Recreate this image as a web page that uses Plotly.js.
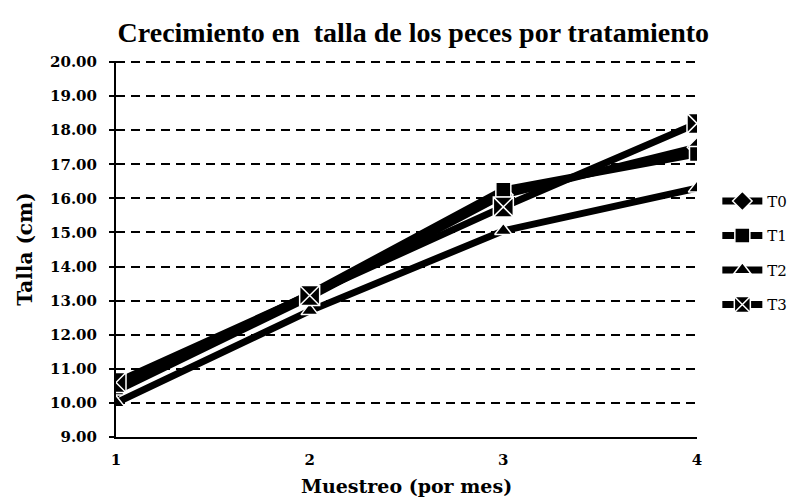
<!DOCTYPE html>
<html><head><meta charset="utf-8">
<script src="https://cdn.plot.ly/plotly-3.0.1.min.js"></script>
<style>body{margin:0;background:#fff}</style>
</head><body>
<div id="chart" style="width:798px;height:501px"></div>
<script>
const muestreo = [1, 2, 3, 4];
const T0 = [10.35, 13.1, 16.1, 17.5];
const T1 = [10.45, 13.2, 16.25, 17.3];
const T2 = [10.0, 12.7, 15.05, 16.3];
const T3 = [10.6, 13.15, 15.75, 18.2];
const yTicks = [9,10,11,12,13,14,15,16,17,18,19,20];

function tr(name, y, symbol, size) {
  return {
    x: muestreo, y: y, name: name, legendgroup: name, type: 'scatter', mode: 'lines+markers',
    line: {color: '#000', width: 7},
    marker: {symbol: symbol, size: size, color: '#000', line: {color: '#fff', width: 1.5}}
  };
}
const data = [
  tr('T0', T0, 'diamond', 15),
  tr('T1', T1, 'square', 15),
  tr('T2', T2, 'triangle-up', 15),
  tr('T3', T3, 'square-x', 20)
];
const font = 'Liberation Serif';
const font2 = 'DejaVu Serif';
const layout = {
  width: 798, height: 501,
  margin: {l: 116, r: 101, t: 61, b: 64, autoexpand: false},
  paper_bgcolor: '#fff', plot_bgcolor: '#fff',
  showlegend: true,
  font: {family: font, color: '#000'},
  title: {text: '<b>Crecimiento en  talla de los peces por tratamiento</b>', font: {family: font, size: 28, color: '#000'}, x: 0.518, xanchor: 'center', y: 0.935, yanchor: 'middle'},
  xaxis: {
    range: [1, 4], tickvals: muestreo, ticktext: muestreo.map(v => '<b>' + v + '</b>'),
    showgrid: false, zeroline: false, showline: true, linecolor: '#000', linewidth: 2,
    ticks: 'outside', ticklen: 8, tickcolor: 'rgba(0,0,0,0)', tickfont: {family: font2, size: 15, color: '#000'},
    title: {text: '<b>Muestreo (por mes)</b>', font: {family: font2, size: 19, color: '#000'}, standoff: 12}
  },
  yaxis: {
    range: [9, 20.03], tickvals: yTicks, ticktext: yTicks.map(v => '<b>' + v.toFixed(2) + '</b>'),
    showgrid: true, gridcolor: '#000', griddash: '9px,6px', gridwidth: 2,
    zeroline: false, showline: true, linecolor: '#000', linewidth: 2,
    ticks: 'outside', ticklen: 5, tickcolor: '#000', tickwidth: 2, ticklabelstandoff: 9,
    tickfont: {family: font2, size: 15, color: '#000'},
    title: {text: '<b>Talla (cm)</b>', font: {family: font2, size: 20, color: '#000'}, standoff: 12}
  },
  legend: {x: 1.035, xanchor: 'left', y: 0.49, yanchor: 'middle', font: {family: font2, size: 15, color: '#000'}, tracegroupgap: 12, itemwidth: 40, bgcolor: 'rgba(0,0,0,0)'}
};
Plotly.newPlot('chart', data, layout, {displayModeBar: false, staticPlot: true});
</script>
</body></html>
